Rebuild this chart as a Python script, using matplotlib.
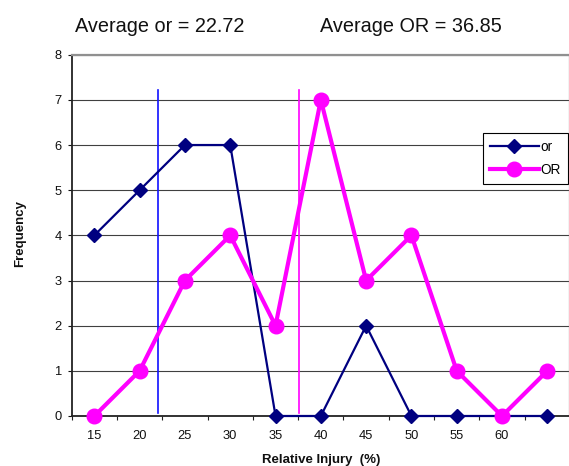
import numpy as np
import matplotlib
matplotlib.use('Agg')
import matplotlib.pyplot as plt

# ---- data ----
categories = ['15', '20', '25', '30', '35', '40', '45', '50', '55', '60', '']
cat_start = 15
cat_step = 5
or_freq = [4, 5, 6, 6, 0, 0, 2, 0, 0, 0, 0]
OR_freq = [0, 1, 3, 4, 2, 7, 3, 4, 1, 0, 1]
y_ticks = [0, 1, 2, 3, 4, 5, 6, 7, 8]
average_texts = ['Average or = 22.72', 'Average OR = 36.85']
# positions (relative injury %) where the average markers were drawn
avg_line_pos = [22.02, 37.63]
avg_line_span = [0.07, 7.21]

NAVY = '#000080'
MAG = '#FF00FF'
BLUE = '#1010FF'

plt.rcParams['font.family'] = ['Liberation Sans', 'DejaVu Sans']

fig = plt.figure(figsize=(5.69, 4.66), dpi=100)
ax = fig.add_axes([0.126, 0.1073, 0.8757, 0.7753])

x = np.arange(len(categories))
ax.set_xlim(-0.5, len(categories) - 0.5)
ax.set_ylim(0, 8)

# gridlines
ax.set_yticks(y_ticks)
ax.yaxis.grid(True, color='#404040', lw=0.8)
ax.set_axisbelow(True)

# average marker lines
for pos, col in zip(avg_line_pos, [BLUE, MAG]):
    xi = (pos - cat_start) / cat_step
    ax.plot([xi, xi], avg_line_span, color=col, lw=1.2, zorder=2)

# series
ax.plot(x, or_freq, color=NAVY, lw=1.6, marker='D', ms=7, mfc=NAVY, mec=NAVY,
        label='or', zorder=4, clip_on=False)
ax.plot(x, OR_freq, color=MAG, lw=3.0, marker='o', ms=10.5, mfc=MAG, mec=MAG,
        label='OR', zorder=5, clip_on=False)

# x ticks
ax.set_xticks(x)
ax.set_xticklabels(categories)
ax.set_xticks(np.arange(-0.5, len(categories), 1), minor=True)
ax.tick_params(axis='x', which='major', length=0, pad=10, labelsize=9.3, colors='#111111')
ax.tick_params(axis='x', which='minor', length=3, width=0.8, direction='out', color='#222222')
ax.tick_params(axis='y', length=3, width=0.8, pad=4, labelsize=9.3, colors='#111111')

# spines
ax.spines['top'].set_color('#909090')
ax.spines['top'].set_linewidth(1.6)
ax.spines['right'].set_color('#909090')
ax.spines['right'].set_linewidth(1.6)
ax.spines['left'].set_color('#222222')
ax.spines['left'].set_linewidth(1.3)
ax.spines['bottom'].set_color('#222222')
ax.spines['bottom'].set_linewidth(1.3)

leg = ax.legend(loc='upper left', bbox_to_anchor=(0.825, 0.783), fontsize=9.8,
                handlelength=3.6, handletextpad=0.15, borderpad=0.5,
                labelspacing=0.65, frameon=True, fancybox=False,
                edgecolor='black', framealpha=1, borderaxespad=0, numpoints=1)
leg.get_frame().set_linewidth(0.8)

# labels
fig.text(321 / 569, 1 - 460 / 466, 'Relative Injury  (%)', ha='center', va='center',
         fontsize=9.5, fontweight='bold', color='#111111')
fig.text(20.5 / 569, 0.498, 'Frequency', ha='center', va='center', rotation=90,
         fontsize=9.5, fontweight='bold', color='#111111')

# header texts
fig.text(75 / 569, 1 - 31.7 / 466, average_texts[0], ha='left', va='baseline',
         fontsize=14.3, color='#111111')
fig.text(320 / 569, 1 - 31.7 / 466, average_texts[1], ha='left', va='baseline',
         fontsize=14.3, color='#111111')

fig.savefig('out.png', dpi=100)
